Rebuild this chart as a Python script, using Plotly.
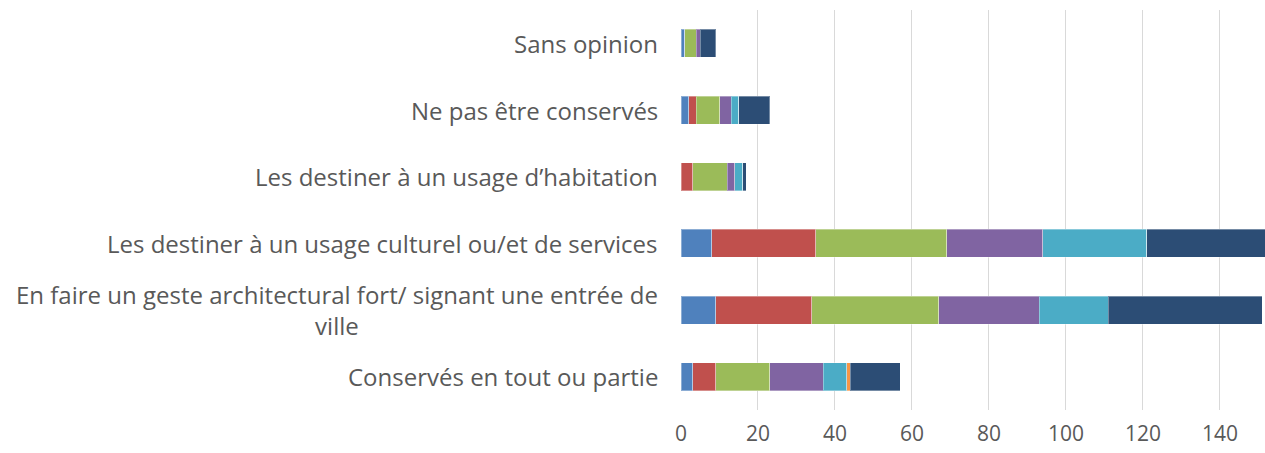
import plotly.graph_objects as go

categories = [
    "Conservés en tout ou partie",
    "En faire un geste architectural fort/ signant une entrée de<br>ville",
    "Les destiner à un usage culturel ou/et de services",
    "Les destiner à un usage d’habitation",
    "Ne pas être conservés",
    "Sans opinion",
]
series_names = ["Série 1", "Série 2", "Série 3", "Série 4", "Série 5", "Série 6", "Série 7"]
s1 = [3, 9, 8, 0, 2, 1]
s2 = [6, 25, 27, 3, 2, 0]
s3 = [14, 33, 34, 9, 6, 3]
s4 = [14, 26, 25, 2, 3, 1]
s5 = [6, 18, 27, 2, 2, 0]
s6 = [1, 0, 0, 0, 0, 0]
s7 = [13, 40, 33, 1, 8, 4]
colors = ["#4F81BD", "#C0504D", "#9BBB59", "#8064A2", "#4BACC6", "#F79646", "#2C4D75"]
x_ticks = [0, 20, 40, 60, 80, 100, 120, 140]

FONT = "Open Sans, Noto Sans, sans-serif"
fig = go.Figure()
for name, vals, col in zip(series_names, [s1, s2, s3, s4, s5, s6, s7], colors):
    fig.add_trace(go.Bar(
        y=categories, x=vals, name=name, orientation="h",
        marker=dict(color=col, line=dict(color="rgba(255,255,255,0.35)", width=1)),
    ))

for c in categories:
    fig.add_annotation(
        text=c, x=0, xref="paper", y=c, yref="y", xanchor="right", yanchor="middle",
        xshift=-21, align="center", showarrow=False,
        font=dict(family=FONT, size=24, color="#595959"),
    )

fig.update_layout(
    barmode="stack", width=1265, height=453,
    margin=dict(l=681, r=0, t=10, b=43),
    plot_bgcolor="white", paper_bgcolor="white", showlegend=False, bargap=0.58,
    xaxis=dict(range=[0, 151.7], tickvals=x_ticks, showgrid=True, gridcolor="#D9D9D9",
               gridwidth=1, zeroline=False, showline=False, ticks="", ticklabelstandoff=9,
               tickfont=dict(family=FONT, size=21, color="#595959")),
    yaxis=dict(showticklabels=False, showgrid=False, zeroline=False, showline=False,
               categoryorder="array", categoryarray=categories),
)
fig.write_html("out.html", config={"displayModeBar": False},
               post_script="document.body.style.margin='0';document.body.style.overflow='hidden';")
